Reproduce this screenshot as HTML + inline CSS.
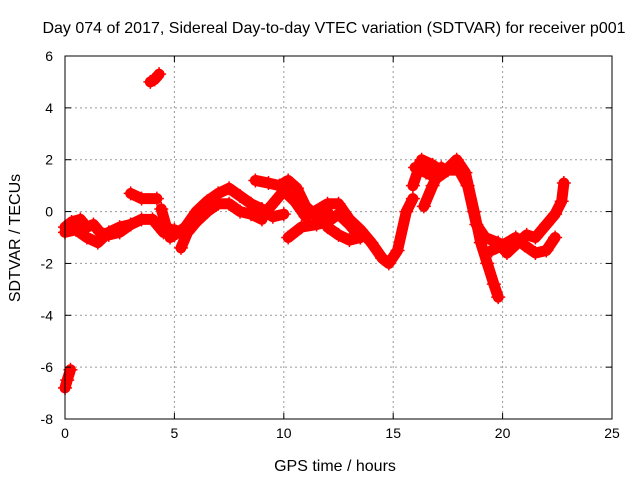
<!DOCTYPE html>
<html><head><meta charset="utf-8"><style>
body{margin:0;background:#fff}
svg{display:block;font-family:"Liberation Sans",sans-serif;font-size:14px}
.big{font-size:16px}
</style></head><body>
<svg id="chart" width="640" height="480">
<text class="big" x="334" y="33" text-anchor="middle">Day 074 of 2017, Sidereal Day-to-day VTEC variation (SDTVAR) for receiver p001</text>
<text class="big" x="335" y="471" text-anchor="middle">GPS time / hours</text>
<text class="big" transform="translate(20,238) rotate(-90)" text-anchor="middle">SDTVAR / TECUs</text>
<g id="grid"></g><g id="series"></g>
<rect x="65" y="56" width="547" height="363" fill="none" stroke="#000"/>
<g id="ticks"></g>
</svg>
<script>
const xTicks=[0,5,10,15,20,25];
const yTicks=[-8,-6,-4,-2,0,2,4,6];
const trackA=[[0,-0.8],[0.5,-0.7],[1,-1.0],[1.5,-1.2],[2,-0.8],[2.5,-0.6],[3,-0.5],[3.5,-0.3],[4,-0.3],[4.5,-0.8],[5,-0.7]];
const trackB=[[0,-0.6],[0.3,-0.4],[0.7,-0.3],[1,-0.6],[1.3,-0.5],[1.6,-0.8],[2,-0.9],[2.5,-0.8],[3,-0.5]];
const trackC=[[3,0.7],[3.5,0.5],[4.2,0.5]];
const trackD=[[4.4,0.1],[4.6,-0.5],[4.8,-1.0],[5,-0.9]];
const trackE=[[5,-0.9],[5.5,-0.6],[6,0],[6.5,0.4],[7,0.7],[7.5,0.9],[8,0.6],[8.5,0.3],[9,0.1],[9.5,-0.2],[10,-0.1]];
const trackF=[[5.3,-1.4],[5.6,-0.8],[6,-0.4],[6.5,0],[7,0.3],[7.5,0.3],[8,0],[8.5,-0.1],[9,-0.3]];
const trackG=[[8.7,1.2],[9.3,1.1],[9.8,1.0],[10.2,1.2],[10.6,0.9],[11,0.2],[11.5,-0.2],[12,0]];
const trackH=[[9,-0.2],[9.5,0.3],[10,0.8],[10.5,0.4],[11,-0.2],[12,0.3],[12.5,0.3],[13,-0.3],[13.5,-0.7],[14,-1.2],[14.5,-1.8],[14.8,-2.0],[15.2,-1.5],[15.6,0],[15.9,0.5]];
const trackI=[[10.2,-1.0],[10.8,-0.6],[11.5,-0.5],[12,-0.4],[12.5,-0.1],[13,-0.5],[13.5,-1.0]];
const trackJ=[[15.9,1.0],[16.3,2.0],[16.8,1.8],[17.3,1.5],[17.9,2.0],[18.3,1.5],[18.7,0],[19.0,-1.2],[19.3,-2.0],[19.6,-2.8],[19.8,-3.3]];
const trackK=[[16.0,1.7],[16.5,1.5],[17,1.3],[17.5,1.6],[18,1.6],[18.4,1.0],[18.8,-0.5],[19.2,-1.0],[19.8,-1.2],[20.2,-1.6],[20.7,-1.2],[21.1,-0.9],[21.5,-1.0],[22,-0.5],[22.4,-0.1],[22.7,0.4],[22.8,1.1]];
const trackL=[[19.5,-1.5],[20,-1.3],[20.6,-1.0],[21,-1.3],[21.5,-1.6],[22,-1.5],[22.4,-1.0]];
const trackM=[[0,-6.8],[0.1,-6.5],[0.25,-6.1]];
const trackN=[[3.9,5.0],[4.1,5.1],[4.3,5.3]];
const trackO=[[12,-0.6],[12.5,-0.9],[13,-1.1],[13.5,-1.0]];
const trackP=[[16.4,0.2],[16.8,1.0],[17.2,1.7]];
const tracks=[trackA,trackB,trackC,trackD,trackE,trackF,trackG,trackH,trackI,trackJ,trackK,trackL,trackM,trackN,trackO,trackP];
const X0=65,X1=612,Y0=419,Y1=56;
const sx=v=>X0+(v-0)/25*(X1-X0);
const sy=v=>Y0-(v+8)/14*(Y0-Y1);
const NS="http://www.w3.org/2000/svg";
const mk=(t,a,p)=>{const e=document.createElementNS(NS,t);for(const k in a)e.setAttribute(k,a[k]);p.appendChild(e);return e;};
const grid=document.getElementById('grid'),ticks=document.getElementById('ticks'),ser=document.getElementById('series');
xTicks.forEach(t=>{const x=sx(t);
 if(t>0&&t<25){const g=mk('line',{x1:x,x2:x,y1:Y1,y2:Y0,stroke:'#999','stroke-dasharray':'2,3'},grid);
 
 }
 mk('line',{x1:x,x2:x,y1:Y0,y2:Y0-6,stroke:'#000'},ticks);mk('line',{x1:x,x2:x,y1:Y1,y2:Y1+6,stroke:'#000'},ticks);
 const l=mk('text',{x:x,y:Y0+19,'text-anchor':'middle'},ticks);l.textContent=t;
 
 });
yTicks.forEach(t=>{const y=sy(t);
 if(t>-8&&t<6){const g=mk('line',{x1:X0,x2:X1,y1:y,y2:y,stroke:'#999','stroke-dasharray':'2,3'},grid);
 
 }
 mk('line',{x1:X0,x2:X0+6,y1:y,y2:y,stroke:'#000'},ticks);mk('line',{x1:X1,x2:X1-6,y1:y,y2:y,stroke:'#000'},ticks);
 const l=mk('text',{x:X0-12,y:y+5,'text-anchor':'end'},ticks);l.textContent=t;
 
 });
tracks.forEach((tr,i)=>{
 const p=mk('polyline',{points:tr.map(d=>sx(d[0])+','+sy(d[1])).join(' '),fill:'none',stroke:'#f00','stroke-width':11,'stroke-linejoin':'round','stroke-linecap':'round'},ser);
 
 
 tr.forEach(d=>{const x=sx(d[0]),y=sy(d[1]);
  const c=mk('path',{d:`M${x-7},${y}H${x+7}M${x},${y-7}V${y+7}`,stroke:'#f00','stroke-width':1.5},ser);
  
  });
});
</script>
</body></html>
